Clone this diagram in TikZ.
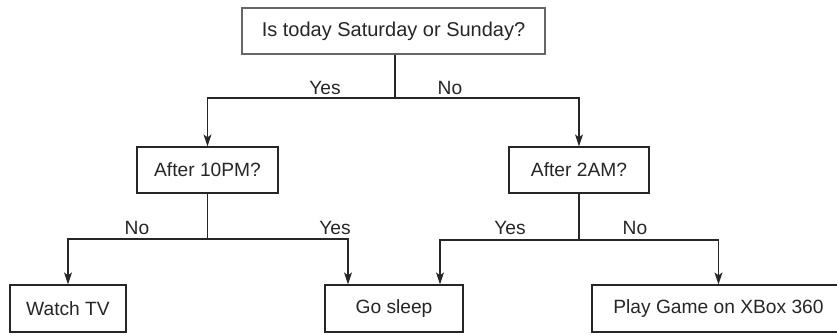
\documentclass[tikz,border=0pt]{standalone}
\usepackage{fontspec}
\setmainfont{Liberation Sans}
\usetikzlibrary{arrows.meta}
\begin{document}
\begin{tikzpicture}[x=0.5pt,y=-0.5pt,
  box/.style={draw=black!85, line width=0.6pt, inner sep=0pt,
    minimum height=23pt, font=\fontsize{9.6}{12}\selectfont, text=black!85},
  qbox/.style={box, draw=black!60, font=\fontsize{10}{12}\selectfont},
  lbl/.style={anchor=base, font=\fontsize{9.6}{11}\selectfont, text=black!85},
  link/.style={draw=black!85, line width=0.6pt},
  arrow/.style={link, -{Stealth[length=6pt,width=4pt,inset=1.5pt]}}]
  \useasboundingbox (0,0) rectangle (837,335);

  % decision and action boxes
  \node[qbox, minimum width=151.5pt] (top) at (393.5,31) {Is today Saturday or Sunday?};
  \node[box, minimum width=70.5pt] (pm) at (207.5,170) {After 10PM?};
  \node[box, minimum width=70pt] (am) at (579,170) {After 2AM?};
  \node[box, minimum width=58pt, minimum height=23.5pt] (tv) at (68,308.5) {Watch TV};
  \node[box, minimum width=69pt, minimum height=23.5pt] (sleep) at (394,308.5) {Go sleep};
  \node[box, minimum width=126.5pt, minimum height=23.5pt] (game) at (718.5,308.5) {Play Game on XBox 360};

  % branch junctions and arrow landing points
  \coordinate (j1) at (395,98);
  \coordinate (j2) at (207.5,239);
  \coordinate (j3) at (579,240);
  \coordinate (sleepL) at ([xshift=-23pt]sleep.north);
  \coordinate (sleepR) at ([xshift=23pt]sleep.north);

  % first question
  \draw[link] (top.south -| j1) -- (j1);
  \draw[arrow] (j1) -| (pm.north);
  \draw[arrow] (j1) -| (am.north);
  \node[lbl] (y1) at (325,95) {Yes};
  \node[lbl] (n1) at (450,95) {No};

  % weekend branch
  \draw[link] (pm.south) -- (j2);
  \draw[arrow] (j2) -| (tv.north);
  \draw[arrow] (j2) -| (sleepL);
  \node[lbl] (n2) at (137,235) {No};
  \node[lbl] (y2) at (335,235) {Yes};

  % weekday branch
  \draw[link] (am.south) -- (j3);
  \draw[arrow] (j3) -| (sleepR);
  \draw[arrow] (j3) -| (game.north);
  \node[lbl] (y3) at (510,235) {Yes};
  \node[lbl] (n3) at (635,235) {No};
\end{tikzpicture}
\end{document}
